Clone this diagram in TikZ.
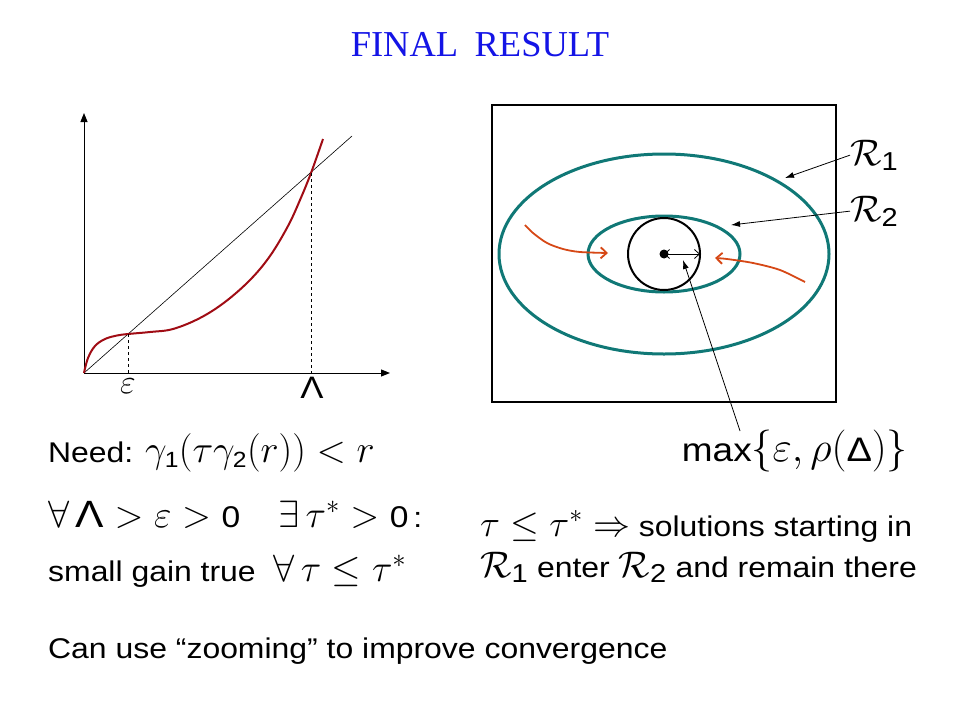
\RequirePackage{fix-cm}
\documentclass[tikz,border=0pt]{standalone}
\usepackage{amsmath}
\usepackage{fontspec}
\setmainfont{Liberation Sans}[FakeStretch=1.12]
\newfontfamily\titlefont{Liberation Serif}
\usetikzlibrary{arrows.meta}

\definecolor{titleblue}{RGB}{20,20,230}
\definecolor{ringteal}{RGB}{16,120,118}
\definecolor{gainred}{RGB}{160,12,20}
\definecolor{trajorange}{RGB}{214,72,22}

% sans digits and capitals inside formulas
\newcommand{\sd}[1]{\text{#1}}
\newcommand{\sdat}[2]{\text{\fontsize{#1}{#1}\selectfont #2}}
% a formula at its own size
\newcommand{\mathat}[2]{{\fontsize{#1}{#1}\selectfont$#2$}}

\begin{document}
\begin{tikzpicture}[x=1pt,y=-1pt,
    every node/.style={inner sep=0pt},
    txt/.style={anchor=base west,font=\fontsize{28.5}{34}\selectfont},
    ring/.style={ringteal,line width=3pt},
    traj/.style={trajorange,line width=1.8pt,-{Straight Barb[length=6pt,width=11pt]}},
    pointer/.style={line width=0.8pt,-{Latex[length=9pt,width=6pt]}}]
    \useasboundingbox (0,0) rectangle (960,720);

    % Title
    \node[titleblue,font=\fontsize{36.5}{40}\titlefont] (title) at (480,45) {FINAL\hspace{0.45em}RESULT};

    % Gain plot
    \coordinate (O) at (84,373);
    \coordinate (ytop) at (84,113);
    \coordinate (xend) at (390,373);
    \coordinate (diag) at (352,136);
    \coordinate (eps) at (128,334);
    \coordinate (lam) at (311,173);
    \draw[line width=1pt,-{Triangle[length=9pt,width=7pt]}] (O) -- (ytop);
    \draw[line width=1pt,-{Triangle[length=9pt,width=7pt]}] (O) -- (xend);
    \draw[line width=0.6pt] (O) -- (diag);
    \draw[gainred,line width=2pt] plot[smooth,tension=0.6] coordinates
        {(84,373) (88,358) (95,346) (105,339) (117,335.5) (128,334) (150,332)
         (173,329) (200,318) (225,302) (250,280) (270,256) (288,226) (300,200)
         (311,173) (323,139)};
    \draw[dashed,line width=0.8pt] (eps) -- (eps |- O);
    \draw[dashed,line width=0.8pt] (lam) -- (lam |- O);
    \node[font=\fontsize{34}{38}\selectfont] (epslab) at (128,386) {$\varepsilon$};
    \node[font=\fontsize{31}{36}\selectfont] (lamlab) at (312,388) {Λ};

    % Regions
    \draw[line width=2.5pt] (492,105) rectangle (836,402);
    \coordinate (c) at (664,254);
    \draw[ring] (c) ellipse [x radius=165, y radius=100];
    \draw[ring] (c) ellipse [x radius=76, y radius=38];
    \draw[line width=2pt] (c) circle [radius=36];
    \fill (c) circle [radius=4.5];
    \coordinate (redge) at (700,254);
    \draw[line width=0.8pt,{Straight Barb[length=5pt,width=9pt]}-{Straight Barb[length=5pt,width=9pt]}] (c) -- (redge);

    % Trajectories
    \draw[traj] plot[smooth] coordinates
        {(525,225) (533,233) (547,243) (563,249) (580,252) (608,253)};
    \draw[traj] plot[smooth] coordinates
        {(805,282) (780,270) (753,263) (727,259) (715,258)};

    % Labels of the regions
    \node[anchor=base west,font=\fontsize{37}{40}\selectfont] (R1) at (850,165) {$\mathcal{R}_{\sd{1}}$};
    \node[anchor=base west,font=\fontsize{37}{40}\selectfont] (R2) at (850,221) {$\mathcal{R}_{\sd{2}}$};
    \coordinate (r1tip) at (785,178);
    \coordinate (r2tip) at (731,225);
    \draw[pointer] (R1.west) -- (r1tip);
    \draw[pointer] (R2.west) -- (r2tip);

    \node[anchor=base east] (maxlab) at (908,461)
        {\sdat{33}{max}\mathat{42}{\{\varepsilon,\rho(\sdat{34}{Δ})\}}};
    \coordinate (maxfoot) at (740,431);
    \coordinate (radtip) at (683,260);
    \draw[pointer] (maxfoot) -- (radtip);

    % Statements
    \node[txt] (need) at (48,462) {Need: \mathat{38.5}{\gamma_{\sdat{22}{1}}(\tau\gamma_{\sdat{22}{2}}(r)) < r}};
    \node[txt] (forall) at (48,527) {\mathat{38}{\forall\,\sd{Λ} > \varepsilon > \sdat{30}{0}\quad\exists\,\tau^* > \sdat{30}{0}}\,:};
    \node[txt] (gain) at (48,581) {small gain true \ \mathat{38}{\forall\,\tau \le \tau^*}};
    \node[txt] (sol) at (480,536) {\mathat{37}{\tau \le \tau^* \Rightarrow} solutions starting in};
    \node[txt] (enter) at (480,577) {\mathat{37}{\mathcal{R}_{\sd{1}}} enter \mathat{37}{\mathcal{R}_{\sd{2}}} and remain there};
    \node[txt] (zoom) at (48,658) {Can use “zooming” to improve convergence};
\end{tikzpicture}
\end{document}
